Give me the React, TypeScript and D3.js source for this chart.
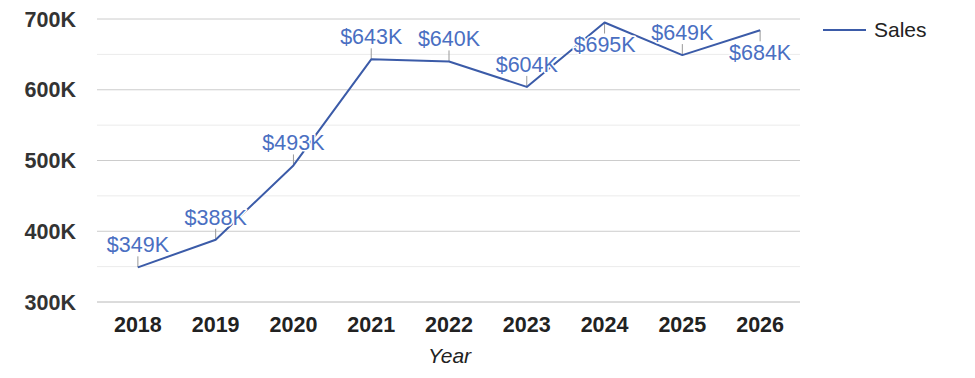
import React from "react";
import * as d3 from "d3";

const years = ["2018", "2019", "2020", "2021", "2022", "2023", "2024", "2025", "2026"];
const sales = [349, 388, 493, 643, 640, 604, 695, 649, 684];
const labelSide = ["above", "above", "above", "above", "above", "above", "below", "above", "below"];
const yTicks = [300, 400, 500, 600, 700];
const yMinor = [350, 450, 550, 650];

const W = 975;
const H = 378;
const left = 97;
const right = 800;
const top = 19;
const bottom = 302;

const LINE = "#3b5ba8";
const LABEL = "#4a6fc2";
const FONT = "'Liberation Sans', Arial, sans-serif";

export default function App() {
  const x = d3.scalePoint<string>().domain(years).range([99, 799]).padding(0.5);
  const y = d3.scaleLinear().domain([300, 700]).range([bottom, top]);
  const line = d3
    .line<number>()
    .x((_, i) => x(years[i]) as number)
    .y((d) => y(d));

  return (
    <svg width={W} height={H} style={{ position: "absolute", left: 0, top: 0, background: "#fff" }}>
      {yMinor.map((v) => (
        <line key={"m" + v} x1={left} x2={right} y1={y(v)} y2={y(v)} stroke="#ebebeb" strokeWidth={1} />
      ))}
      {yTicks.map((v) => (
        <line
          key={"g" + v}
          x1={left}
          x2={right}
          y1={y(v)}
          y2={y(v)}
          stroke={v === 300 ? "#b8b8b8" : "#cccccc"}
          strokeWidth={1}
        />
      ))}
      {yTicks.map((v) => (
        <text
          key={"t" + v}
          x={76}
          y={y(v)}
          dy="0.36em"
          textAnchor="end"
          fontFamily={FONT}
          fontWeight="bold"
          fontSize={21.5}
          fill="#333"
        >
          {v + "K"}
        </text>
      ))}
      {years.map((yr) => (
        <text
          key={"x" + yr}
          x={x(yr)}
          y={331.5}
          textAnchor="middle"
          fontFamily={FONT}
          fontWeight="bold"
          fontSize={21.5}
          fill="#222"
        >
          {yr}
        </text>
      ))}
      <text
        x={(left + right) / 2 + 1}
        y={363}
        textAnchor="middle"
        fontFamily={FONT}
        fontStyle="italic"
        fontSize={21}
        fill="#222"
      >
        Year
      </text>

      {sales.map((v, i) => {
        const px = x(years[i]) as number;
        const py = y(v);
        const up = labelSide[i] === "above";
        return (
          <line
            key={"l" + i}
            x1={px}
            x2={px}
            y1={py}
            y2={up ? py - 11 : py + 11}
            stroke="#999"
            strokeWidth={1}
          />
        );
      })}

      <path d={line(sales) || ""} fill="none" stroke={LINE} strokeWidth={2} strokeLinejoin="round" />

      {sales.map((v, i) => {
        const px = x(years[i]) as number;
        const py = y(v);
        const up = labelSide[i] === "above";
        return (
          <text
            key={"d" + i}
            x={px}
            y={up ? py - 15 : py + 29.5}
            textAnchor="middle"
            fontFamily={FONT}
            fontSize={21.5}
            fill={LABEL}
            stroke="#fff"
            strokeWidth={3}
            paintOrder="stroke"
            strokeLinejoin="round"
          >
            {"$" + v + "K"}
          </text>
        );
      })}

      <line x1={823} x2={866} y1={30} y2={30} stroke={LINE} strokeWidth={2} />
      <text x={874} y={37} fontFamily={FONT} fontSize={21} fill="#222">
        Sales
      </text>
    </svg>
  );
}
